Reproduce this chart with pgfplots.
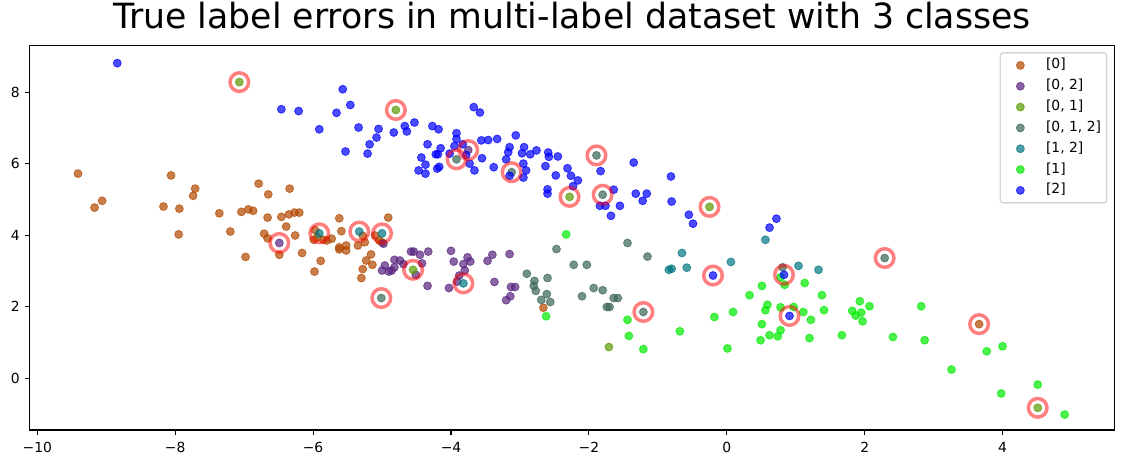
\documentclass[border=0pt]{standalone}
\usepackage{pgfplots}
\pgfplotsset{compat=1.18}
\usepackage{fontspec}
\setmainfont{DejaVu Sans}
\definecolor{c0}{RGB}{178,72,0}
\definecolor{c1}{RGB}{0,235,0}
\definecolor{c2}{RGB}{0,0,255}
\definecolor{c01}{RGB}{89,154,0}
\definecolor{c02}{RGB}{89,36,128}
\definecolor{c12}{RGB}{0,118,128}
\definecolor{c012}{RGB}{59,102,85}
\definecolor{legframe}{RGB}{214,214,214}
\pgfplotsset{
  pts/.style={only marks, mark=*, mark size=2.85pt,
    mark options={draw=#1, fill=#1, draw opacity=0.7, fill opacity=0.7, line width=0.6pt},
    legend image code/.code={\path (0pt,0pt) (20pt,0pt); \draw[##1] plot coordinates {(10pt,0pt)};}},
}
\begin{document}
\begin{tikzpicture}
\path (-21.4pt,-24.5pt) rectangle (787.2pt,309.6pt);
\begin{axis}[
  at={(0pt,0pt)}, anchor=south west,
  scale only axis, width=780.9pt, height=277.0pt,
  xmin=-10.11, xmax=5.62, ymin=-1.45, ymax=9.31,
  axis line style={line width=0.8pt, black},
  tick align=outside, major tick length=3.5pt,
  tick style={line width=0.8pt, black},
  xtick pos=left, ytick pos=left,
  xtick={-10,-8,-6,-4,-2,0,2,4},
  xticklabels={−10,−8,−6,−4,−2,0,2,4},
  ytick={0,2,4,6,8},
  yticklabels={0,2,4,6,8},
  /pgf/number format/assume math mode=true,
  xticklabel style={font=\fontsize{10}{12}\selectfont, inner sep=0pt, anchor=north, text height=7.3pt, text depth=0pt},
  yticklabel style={font=\fontsize{10}{12}\selectfont, inner sep=0pt, anchor=east},
  xticklabel shift=4.9pt, yticklabel shift=3.5pt,
  title={True label errors in multi-label dataset with 3 classes},
  title style={font=\fontsize{25}{30}\selectfont, at={(0.5,1)}, anchor=base, yshift=6pt, inner sep=0pt},
  legend cell align=left,
  legend style={at={(1,1)}, anchor=north east, xshift=-5pt, yshift=-5pt,
    draw=legframe, line width=1pt, rounded corners=2pt, fill=white,
    inner xsep=4pt, inner ysep=4pt,
    font=\fontsize{10}{12}\selectfont,
    nodes={inner sep=0pt, text height=7.5pt, text depth=2.5pt},
    row sep=5pt,
    /tikz/every odd column/.append style={column sep=8pt}},
]
\addplot[pts=c0] coordinates {
(-9.41,5.72) (-8.06,5.67) (-7.71,5.30) (-7.74,5.10) (-6.79,5.44) (-6.65,5.14) (-6.34,5.30)
(-9.06,4.96) (-9.17,4.77) (-8.17,4.80) (-7.94,4.74) (-7.36,4.61) (-7.04,4.65) (-6.94,4.72)
(-6.87,4.68) (-6.66,4.49) (-6.46,4.51) (-6.35,4.58) (-6.27,4.63) (-6.20,4.63) (-6.39,4.24)
(-7.20,4.10) (-7.95,4.02) (-6.71,4.04) (-6.26,3.99) (-6.66,3.91) (-6.49,3.45) (-6.16,3.50)
(-6.98,3.39) (-5.89,3.28) (-5.98,2.98) (-5.62,4.47) (-4.91,4.49) (-5.59,4.11) (-5.97,4.14)
(-5.94,3.94) (-5.85,3.87) (-5.80,3.85) (-5.73,3.90) (-5.99,3.87) (-5.62,3.66) (-5.52,3.71)
(-5.52,3.57) (-5.62,3.60) (-5.35,3.71) (-5.28,3.98) (-5.25,3.80) (-5.16,3.46) (-5.23,3.29)
(-5.14,3.17) (-5.28,3.05) (-5.30,2.80) (-5.10,3.99) (-5.04,3.85) (-5.00,3.80) (-2.66,1.97)
(3.66,1.51)
};
\addlegendentry{[0]}
\addplot[pts=c02] coordinates {
(-6.49,3.78) (-4.98,3.76) (-5.00,3.01) (-4.96,3.15) (-4.90,2.98) (-4.86,3.01) (-4.82,3.31)
(-4.82,3.10) (-4.74,3.29) (-4.69,3.19) (-4.58,3.54) (-4.54,3.54) (-4.45,3.45) (-4.33,3.54)
(-4.42,3.21) (-4.51,2.89) (-4.34,2.58) (-4.00,3.56) (-3.96,3.26) (-4.03,2.52) (-3.82,3.19)
(-3.76,3.38) (-3.72,3.26) (-3.80,3.01) (-3.88,2.87) (-3.91,2.70) (-3.47,3.28) (-3.40,3.45)
(-3.15,3.47) (-3.37,2.69) (-3.13,2.55) (-3.07,2.55) (-3.14,2.29) (-3.20,2.18) (-3.75,6.38)
};
\addlegendentry{[0, 2]}
\addplot[pts=c01] coordinates {
(-7.07,8.28) (-4.80,7.50) (-4.55,3.03) (-2.28,5.07) (-0.25,4.79) (4.51,-0.83) (-1.71,0.87)
};
\addlegendentry{[0, 1]}
\addplot[pts=c012] coordinates {
(-3.92,6.12) (-3.12,5.76) (-1.89,6.23) (-1.80,5.13) (-5.01,2.24) (-1.21,1.85) (2.29,3.36)
(-2.90,2.92) (-2.79,2.72) (-2.80,2.58) (-2.77,2.44) (-2.60,2.80) (-2.61,2.35) (-2.69,2.19)
(-2.56,2.13) (-2.47,3.61) (-2.22,3.17) (-2.03,3.17) (-2.10,2.29) (-1.93,2.52) (-1.80,2.46)
(-1.64,2.24) (-1.58,2.24) (-1.74,1.99) (-1.70,1.99) (-1.44,3.78) (-1.15,3.40) (0.81,3.10)
};
\addlegendentry{[0, 1, 2]}
\addplot[pts=c12] coordinates {
(-5.91,4.05) (-5.33,4.10) (-5.00,4.05) (-3.82,2.65) (-0.65,3.50) (-0.84,3.03) (-0.80,3.06)
(-0.58,3.09) (0.06,3.25) (0.56,3.87) (1.04,3.14) (1.33,3.03)
};
\addlegendentry{[1, 2]}
\addplot[pts=c1] coordinates {
(-2.33,4.02) (-2.62,1.73) (-1.44,1.63) (-1.42,1.18) (-1.21,0.81) (-0.68,1.31) (-0.18,1.71)
(0.09,1.85) (0.01,0.83) (0.78,2.82) (0.84,2.61) (0.51,2.58) (0.33,2.32) (1.13,2.66)
(1.38,2.32) (0.59,2.05) (0.56,1.90) (0.78,1.98) (0.97,1.99) (1.11,1.85) (1.22,1.63)
(1.41,1.90) (0.51,1.51) (0.78,1.34) (0.62,1.20) (0.74,1.17) (0.49,1.06) (1.20,1.12)
(1.67,1.20) (1.93,2.15) (2.07,2.01) (1.82,1.88) (1.87,1.75) (1.95,1.83) (1.97,1.59)
(2.82,2.01) (2.41,1.15) (2.87,1.06) (3.77,0.75) (4.00,0.89) (3.26,0.24) (3.98,-0.43)
(4.51,-0.18) (4.90,-1.02)
};
\addlegendentry{[1]}
\addplot[pts=c2] coordinates {
(-8.84,8.81) (-6.46,7.52) (-6.21,7.47) (-5.91,6.96) (-5.57,8.08) (-5.46,7.64) (-5.66,7.42)
(-5.34,7.01) (-5.05,6.97) (-5.08,6.73) (-5.18,6.54) (-5.53,6.34) (-5.21,6.28) (-4.83,6.87)
(-4.67,7.05) (-4.64,6.90) (-4.53,7.15) (-4.27,7.05) (-4.18,6.96) (-3.92,6.85) (-3.92,6.69)
(-4.34,6.54) (-4.15,6.43) (-4.22,6.26) (-4.19,6.26) (-4.43,6.17) (-4.37,5.97) (-4.47,5.81)
(-4.37,5.72) (-4.20,5.86) (-4.17,5.91) (-4.02,6.28) (-3.95,6.49) (-3.83,6.54) (-3.78,6.24)
(-3.67,7.58) (-3.58,7.43) (-3.73,6.00) (-3.66,5.81) (-3.55,6.15) (-3.56,6.65) (-3.46,6.66)
(-3.33,6.69) (-3.38,5.90) (-3.06,6.79) (-3.15,6.46) (-3.17,6.32) (-3.20,6.12) (-2.97,6.29)
(-2.94,6.46) (-2.85,6.26) (-2.76,6.37) (-2.95,6.00) (-2.91,5.81) (-2.95,5.61) (-3.15,5.66)
(-2.59,6.31) (-2.58,6.19) (-2.45,6.20) (-2.63,5.93) (-2.48,5.67) (-2.31,5.87) (-2.26,5.66)
(-2.16,5.53) (-2.23,5.37) (-2.60,5.28) (-2.60,5.16) (-1.83,5.79) (-1.35,6.03) (-1.64,5.27)
(-1.84,4.82) (-1.76,4.82) (-1.55,4.82) (-1.68,4.54) (-1.32,5.16) (-1.16,5.16) (-1.22,4.96)
(-0.81,5.64) (-0.80,4.94) (-0.55,4.57) (-0.49,4.32) (0.62,4.21) (0.72,4.46)
(-0.20,2.87) (0.83,2.89) (0.91,1.74)
};
\addlegendentry{[2]}
\addplot[only marks, mark=o, mark size=6.7pt, forget plot,
  mark options={draw=red, draw opacity=0.5, line width=2.5pt}] coordinates {
(-7.07,8.28) (-4.80,7.50) (-4.55,3.03) (-2.28,5.07) (-0.25,4.79) (4.51,-0.83) (-3.92,6.12)
(-3.75,6.38) (-3.12,5.76) (-1.89,6.23) (-1.80,5.13) (-5.01,2.24) (-1.21,1.85) (2.29,3.36)
(-5.91,4.05) (-5.33,4.10) (-5.00,4.05) (-3.82,2.65) (-6.49,3.78) (3.66,1.51) (-0.20,2.87)
(0.83,2.89) (0.91,1.74)
};
\end{axis}
\end{tikzpicture}
\end{document}
